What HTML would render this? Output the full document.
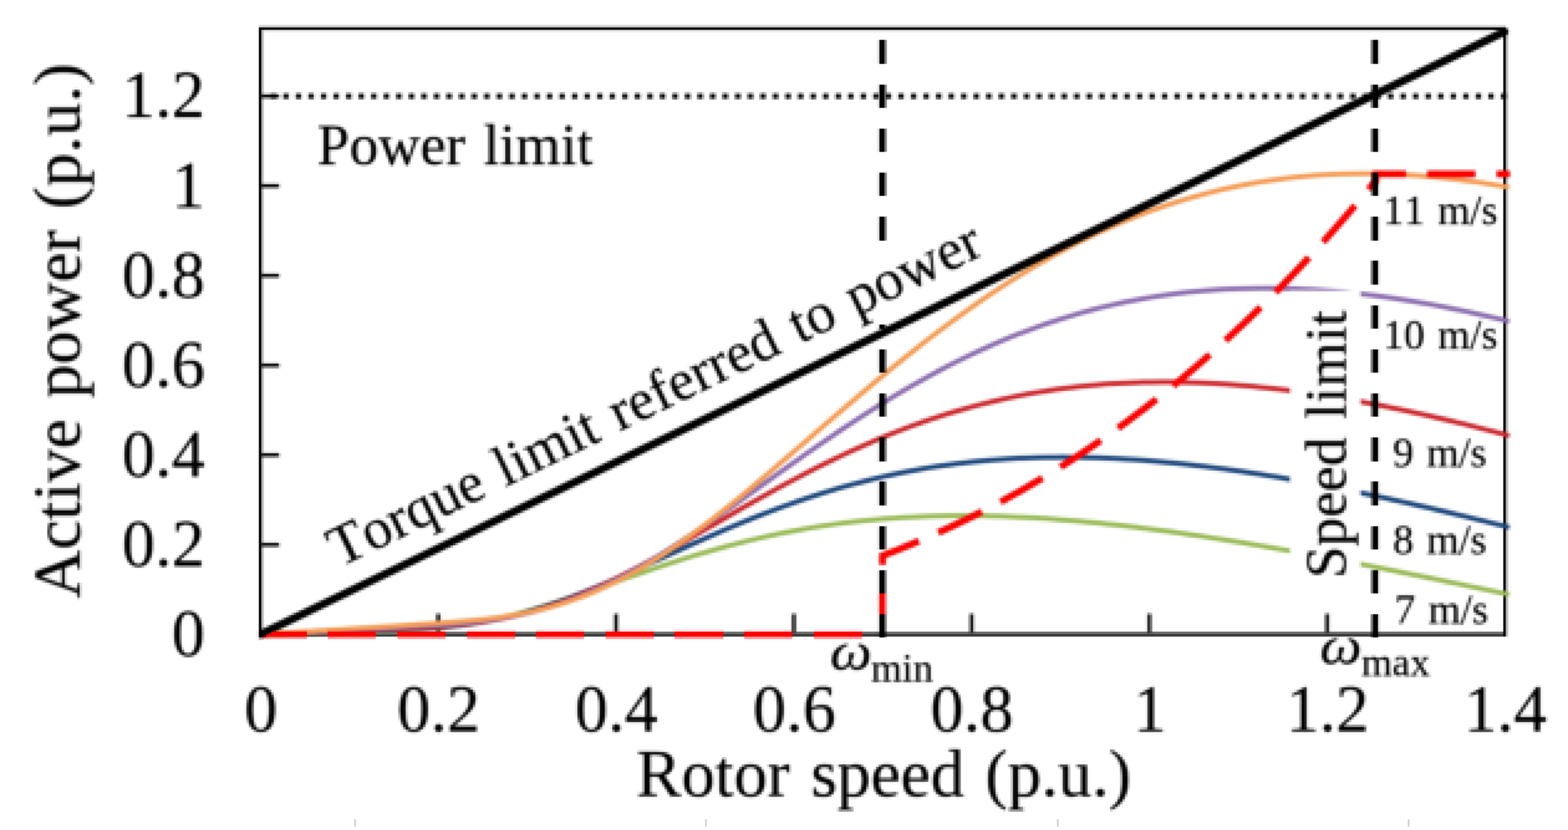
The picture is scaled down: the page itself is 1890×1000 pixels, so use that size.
<!DOCTYPE html>
<html lang="en"><head><meta charset="utf-8"><title>Wind turbine power characteristics</title>
<style>html,body{margin:0;padding:0;background:#fff;}body{width:1890px;height:1000px;overflow:hidden;}svg{display:block;}text{font-family:"Liberation Serif","DejaVu Serif",serif;font-kerning:none;font-variant-ligatures:none;word-spacing:0.0625em;fill:#000;stroke:#000;stroke-width:0.3px;stroke-linejoin:round;}</style></head><body>
<svg width="1890" height="1000" viewBox="0 0 1890 1000">
<defs>
<filter id="pix" filterUnits="userSpaceOnUse" x="0" y="0" width="1890" height="1000" color-interpolation-filters="sRGB"><feGaussianBlur in="SourceGraphic" stdDeviation="0.85" result="b"/><feFlood x="1" y="1" width="1" height="1" flood-color="#000" result="f"/><feComposite in="f" in2="f" operator="over" x="0" y="0" width="3" height="3" result="c"/><feTile in="c" result="t"/><feComposite in="b" in2="t" operator="in" result="s"/><feMorphology in="s" operator="dilate" radius="1"/></filter>
<filter id="soft" filterUnits="userSpaceOnUse" x="-6" y="-6" width="1902" height="1012" color-interpolation-filters="sRGB"><feConvolveMatrix order="3" kernelMatrix="1 4 1 4 20 4 1 4 1" divisor="40" edgeMode="duplicate" preserveAlpha="true"/></filter>
<clipPath id="tq"><rect x="312" y="0" width="1520" height="770"/></clipPath>
</defs>
<rect x="-12" y="-12" width="1914" height="1024" fill="#fff"/>
<g filter="url(#soft)">
<rect x="-12" y="-12" width="1914" height="1024" fill="#fff"/>
<g shape-rendering="crispEdges">
<rect x="427" y="987" width="2" height="9" fill="#cfcfcf"/>
<rect x="850" y="987" width="2" height="9" fill="#cfcfcf"/>
<rect x="1274" y="987" width="2" height="9" fill="#cfcfcf"/>
<rect x="1697" y="987" width="2" height="9" fill="#cfcfcf"/>
<rect x="312" y="761" width="1503" height="3" fill="#6a6a6a"/>
<rect x="312" y="764" width="1503" height="3" fill="#383838"/>
<rect x="312" y="30" width="1503" height="3" fill="#d5d5d5"/>
<rect x="315" y="36" width="1497" height="3" fill="#e9e9e9"/>
<rect x="315" y="36" width="3" height="725" fill="#bcbcbc"/>
<rect x="1815" y="39" width="3" height="728" fill="#bcbcbc"/>
<rect x="312" y="33" width="1503" height="3" fill="#000"/>
<rect x="312" y="33" width="3" height="734" fill="#000"/>
<rect x="1812" y="33" width="3" height="734" fill="#000"/>
</g>
<g filter="url(#pix)">
<rect x="315" y="654.1" width="21.5" height="4.4" fill="#000"/>
<rect x="315" y="546.0" width="21.5" height="4.4" fill="#000"/>
<rect x="315" y="438.0" width="21.5" height="4.4" fill="#000"/>
<rect x="315" y="329.9" width="21.5" height="4.4" fill="#000"/>
<rect x="315" y="221.8" width="21.5" height="4.4" fill="#000"/>
<rect x="315" y="113.7" width="21.5" height="4.4" fill="#000"/>
<rect x="526.0" y="739.5" width="4.6" height="23" fill="#111"/>
<rect x="740.3" y="739.5" width="4.6" height="23" fill="#111"/>
<rect x="954.6" y="739.5" width="4.6" height="23" fill="#111"/>
<rect x="1168.8" y="739.5" width="4.6" height="23" fill="#111"/>
<rect x="1383.1" y="739.5" width="4.6" height="23" fill="#111"/>
<rect x="1597.4" y="739.5" width="4.6" height="23" fill="#111"/>
<g fill="none" stroke-width="6" stroke-linejoin="round">
<path d="M314.0,764.4 L324.8,764.1 L335.5,763.9 L346.3,763.6 L357.0,763.3 L367.8,763.0 L378.5,762.8 L389.3,762.5 L400.0,762.2 L410.8,762.0 L421.5,761.7 L432.3,761.4 L443.0,761.1 L453.8,760.8 L464.5,760.5 L475.3,760.1 L486.0,759.7 L496.8,759.1 L507.5,758.4 L518.3,757.6 L529.1,756.7 L539.8,755.5 L550.6,754.1 L561.3,752.6 L572.1,750.8 L582.8,748.8 L593.6,746.6 L604.3,744.2 L615.1,741.6 L625.8,738.8 L636.6,735.8 L647.3,732.6 L658.1,729.4 L668.8,726.0 L679.6,722.5 L690.3,718.9 L701.1,715.2 L711.8,711.5 L722.6,707.8 L733.4,704.0 L744.1,700.3 L754.9,696.5 L765.6,692.8 L776.4,689.1 L787.1,685.5 L797.9,681.9 L808.6,678.3 L819.4,674.9 L830.1,671.5 L840.9,668.2 L851.6,665.1 L862.4,662.0 L873.1,659.0 L883.9,656.1 L894.6,653.3 L905.4,650.7 L916.1,648.1 L926.9,645.7 L937.6,643.4 L948.4,641.2 L959.2,639.2 L969.9,637.2 L980.7,635.4 L991.4,633.7 L1002.2,632.1 L1012.9,630.6 L1023.7,629.3 L1034.4,628.0 L1045.2,626.9 L1055.9,625.9 L1066.7,625.0 L1077.4,624.2 L1088.2,623.5 L1098.9,622.9 L1109.7,622.4 L1120.4,622.0 L1131.2,621.7 L1141.9,621.5 L1152.7,621.3 L1163.5,621.3 L1174.2,621.4 L1185.0,621.5 L1195.7,621.8 L1206.5,622.1 L1217.2,622.5 L1228.0,622.9 L1238.7,623.5 L1249.5,624.1 L1260.2,624.8 L1271.0,625.5 L1281.7,626.4 L1292.5,627.2 L1303.2,628.2 L1314.0,629.2 L1324.7,630.3 L1335.5,631.4 L1346.2,632.6 L1357.0,633.8 L1367.8,635.1 L1378.5,636.4 L1389.3,637.8 L1400.0,639.2 L1410.8,640.6 L1421.5,642.1 L1432.3,643.7 L1443.0,645.3 L1453.8,646.9 L1464.5,648.6 L1475.3,650.2 L1486.0,652.0 L1496.8,653.7 L1507.5,655.5 L1518.3,657.4 L1529.0,659.2 L1539.8,661.1 L1550.5,663.0 L1561.3,664.9 L1572.1,666.9 L1582.8,668.8 L1593.6,670.8 L1604.3,672.9 L1615.1,674.9 L1625.8,677.0 L1636.6,679.0 L1647.3,681.1 L1658.1,683.3 L1668.8,685.4 L1679.6,687.5 L1690.3,689.7 L1701.1,691.9 L1711.8,694.0 L1722.6,696.2 L1733.3,698.4 L1744.1,700.7 L1754.8,702.9 L1765.6,705.1 L1776.3,707.4 L1787.1,709.6 L1797.9,711.9 L1808.6,714.1 L1819.4,716.4" stroke="#9BBB59"/>
<path d="M314.0,764.4 L324.8,764.0 L335.5,763.7 L346.3,763.3 L357.0,763.0 L367.8,762.6 L378.5,762.3 L389.3,761.9 L400.0,761.6 L410.8,761.2 L421.5,760.9 L432.3,760.5 L443.0,760.1 L453.8,759.8 L464.5,759.4 L475.3,759.0 L486.0,758.6 L496.8,758.1 L507.5,757.5 L518.3,756.8 L529.1,756.0 L539.8,755.1 L550.6,754.0 L561.3,752.7 L572.1,751.1 L582.8,749.4 L593.6,747.4 L604.3,745.1 L615.1,742.6 L625.8,739.9 L636.6,736.9 L647.3,733.7 L658.1,730.3 L668.8,726.7 L679.6,722.8 L690.3,718.8 L701.1,714.6 L711.8,710.2 L722.6,705.8 L733.4,701.2 L744.1,696.5 L754.9,691.7 L765.6,686.9 L776.4,682.0 L787.1,677.1 L797.9,672.2 L808.6,667.3 L819.4,662.4 L830.1,657.5 L840.9,652.7 L851.6,647.9 L862.4,643.2 L873.1,638.6 L883.9,634.0 L894.6,629.5 L905.4,625.1 L916.1,620.9 L926.9,616.7 L937.6,612.6 L948.4,608.7 L959.2,604.9 L969.9,601.2 L980.7,597.6 L991.4,594.2 L1002.2,590.9 L1012.9,587.7 L1023.7,584.7 L1034.4,581.8 L1045.2,579.0 L1055.9,576.4 L1066.7,573.9 L1077.4,571.5 L1088.2,569.3 L1098.9,567.2 L1109.7,565.3 L1120.4,563.4 L1131.2,561.7 L1141.9,560.2 L1152.7,558.8 L1163.5,557.4 L1174.2,556.3 L1185.0,555.2 L1195.7,554.3 L1206.5,553.4 L1217.2,552.7 L1228.0,552.1 L1238.7,551.7 L1249.5,551.3 L1260.2,551.0 L1271.0,550.9 L1281.7,550.8 L1292.5,550.9 L1303.2,551.0 L1314.0,551.3 L1324.7,551.6 L1335.5,552.0 L1346.2,552.5 L1357.0,553.2 L1367.8,553.8 L1378.5,554.6 L1389.3,555.5 L1400.0,556.4 L1410.8,557.4 L1421.5,558.5 L1432.3,559.7 L1443.0,560.9 L1453.8,562.2 L1464.5,563.6 L1475.3,565.0 L1486.0,566.5 L1496.8,568.0 L1507.5,569.7 L1518.3,571.3 L1529.0,573.1 L1539.8,574.8 L1550.5,576.7 L1561.3,578.6 L1572.1,580.5 L1582.8,582.5 L1593.6,584.5 L1604.3,586.6 L1615.1,588.7 L1625.8,590.9 L1636.6,593.1 L1647.3,595.3 L1658.1,597.6 L1668.8,599.9 L1679.6,602.2 L1690.3,604.6 L1701.1,607.0 L1711.8,609.5 L1722.6,611.9 L1733.3,614.5 L1744.1,617.0 L1754.8,619.6 L1765.6,622.1 L1776.3,624.8 L1787.1,627.4 L1797.9,630.1 L1808.6,632.7 L1819.4,635.4" stroke="#1F497D"/>
<path d="M314.0,764.4 L324.8,764.0 L335.5,763.5 L346.3,763.1 L357.0,762.6 L367.8,762.2 L378.5,761.7 L389.3,761.3 L400.0,760.8 L410.8,760.4 L421.5,759.9 L432.3,759.5 L443.0,759.0 L453.8,758.6 L464.5,758.1 L475.3,757.7 L486.0,757.2 L496.8,756.7 L507.5,756.1 L518.3,755.5 L529.1,754.8 L539.8,754.0 L550.6,753.0 L561.3,751.9 L572.1,750.6 L582.8,749.2 L593.6,747.4 L604.3,745.5 L615.1,743.3 L625.8,740.8 L636.6,738.1 L647.3,735.0 L658.1,731.7 L668.8,728.2 L679.6,724.3 L690.3,720.2 L701.1,715.8 L711.8,711.2 L722.6,706.4 L733.4,701.4 L744.1,696.2 L754.9,690.7 L765.6,685.2 L776.4,679.5 L787.1,673.6 L797.9,667.7 L808.6,661.7 L819.4,655.6 L830.1,649.4 L840.9,643.2 L851.6,637.0 L862.4,630.8 L873.1,624.6 L883.9,618.4 L894.6,612.2 L905.4,606.1 L916.1,600.1 L926.9,594.1 L937.6,588.2 L948.4,582.3 L959.2,576.6 L969.9,571.0 L980.7,565.4 L991.4,560.0 L1002.2,554.7 L1012.9,549.6 L1023.7,544.5 L1034.4,539.7 L1045.2,534.9 L1055.9,530.3 L1066.7,525.8 L1077.4,521.5 L1088.2,517.3 L1098.9,513.3 L1109.7,509.4 L1120.4,505.7 L1131.2,502.1 L1141.9,498.7 L1152.7,495.5 L1163.5,492.4 L1174.2,489.4 L1185.0,486.6 L1195.7,484.0 L1206.5,481.5 L1217.2,479.1 L1228.0,476.9 L1238.7,474.8 L1249.5,472.9 L1260.2,471.2 L1271.0,469.5 L1281.7,468.0 L1292.5,466.7 L1303.2,465.5 L1314.0,464.4 L1324.7,463.4 L1335.5,462.6 L1346.2,461.9 L1357.0,461.4 L1367.8,460.9 L1378.5,460.6 L1389.3,460.4 L1400.0,460.3 L1410.8,460.3 L1421.5,460.5 L1432.3,460.7 L1443.0,461.1 L1453.8,461.5 L1464.5,462.1 L1475.3,462.8 L1486.0,463.5 L1496.8,464.4 L1507.5,465.3 L1518.3,466.4 L1529.0,467.5 L1539.8,468.7 L1550.5,470.0 L1561.3,471.4 L1572.1,472.9 L1582.8,474.4 L1593.6,476.1 L1604.3,477.8 L1615.1,479.6 L1625.8,481.4 L1636.6,483.3 L1647.3,485.3 L1658.1,487.4 L1668.8,489.5 L1679.6,491.7 L1690.3,493.9 L1701.1,496.2 L1711.8,498.6 L1722.6,501.0 L1733.3,503.5 L1744.1,506.0 L1754.8,508.6 L1765.6,511.2 L1776.3,513.9 L1787.1,516.6 L1797.9,519.4 L1808.6,522.2 L1819.4,525.1" stroke="#CC2B30"/>
<path d="M314.0,764.4 L324.8,763.8 L335.5,763.3 L346.3,762.7 L357.0,762.2 L367.8,761.6 L378.5,761.1 L389.3,760.5 L400.0,760.0 L410.8,759.4 L421.5,758.9 L432.3,758.3 L443.0,757.8 L453.8,757.2 L464.5,756.7 L475.3,756.1 L486.0,755.5 L496.8,754.9 L507.5,754.3 L518.3,753.7 L529.1,753.0 L539.8,752.3 L550.6,751.4 L561.3,750.4 L572.1,749.3 L582.8,748.1 L593.6,746.6 L604.3,744.9 L615.1,743.0 L625.8,740.9 L636.6,738.5 L647.3,735.8 L658.1,732.8 L668.8,729.5 L679.6,725.8 L690.3,721.9 L701.1,717.7 L711.8,713.1 L722.6,708.3 L733.4,703.2 L744.1,697.8 L754.9,692.1 L765.6,686.2 L776.4,680.1 L787.1,673.7 L797.9,667.1 L808.6,660.3 L819.4,653.4 L830.1,646.3 L840.9,639.1 L851.6,631.8 L862.4,624.3 L873.1,616.8 L883.9,609.2 L894.6,601.6 L905.4,593.9 L916.1,586.3 L926.9,578.6 L937.6,570.9 L948.4,563.3 L959.2,555.7 L969.9,548.1 L980.7,540.6 L991.4,533.2 L1002.2,525.9 L1012.9,518.6 L1023.7,511.5 L1034.4,504.4 L1045.2,497.5 L1055.9,490.7 L1066.7,484.0 L1077.4,477.5 L1088.2,471.1 L1098.9,464.9 L1109.7,458.8 L1120.4,452.8 L1131.2,447.0 L1141.9,441.4 L1152.7,435.9 L1163.5,430.6 L1174.2,425.5 L1185.0,420.5 L1195.7,415.7 L1206.5,411.0 L1217.2,406.6 L1228.0,402.3 L1238.7,398.2 L1249.5,394.2 L1260.2,390.4 L1271.0,386.8 L1281.7,383.3 L1292.5,380.1 L1303.2,376.9 L1314.0,374.0 L1324.7,371.2 L1335.5,368.6 L1346.2,366.1 L1357.0,363.8 L1367.8,361.7 L1378.5,359.7 L1389.3,357.9 L1400.0,356.2 L1410.8,354.7 L1421.5,353.3 L1432.3,352.1 L1443.0,351.0 L1453.8,350.0 L1464.5,349.2 L1475.3,348.6 L1486.0,348.1 L1496.8,347.7 L1507.5,347.4 L1518.3,347.3 L1529.0,347.3 L1539.8,347.4 L1550.5,347.6 L1561.3,348.0 L1572.1,348.5 L1582.8,349.1 L1593.6,349.8 L1604.3,350.6 L1615.1,351.6 L1625.8,352.6 L1636.6,353.7 L1647.3,355.0 L1658.1,356.3 L1668.8,357.8 L1679.6,359.3 L1690.3,361.0 L1701.1,362.7 L1711.8,364.5 L1722.6,366.4 L1733.3,368.4 L1744.1,370.5 L1754.8,372.7 L1765.6,374.9 L1776.3,377.3 L1787.1,379.7 L1797.9,382.1 L1808.6,384.7 L1819.4,387.3" stroke="#8E70B0"/>
<path d="M314.0,764.4 L324.8,763.7 L335.5,763.1 L346.3,762.4 L357.0,761.7 L367.8,761.1 L378.5,760.4 L389.3,759.7 L400.0,759.0 L410.8,758.4 L421.5,757.7 L432.3,757.0 L443.0,756.4 L453.8,755.7 L464.5,755.0 L475.3,754.4 L486.0,753.7 L496.8,753.0 L507.5,752.3 L518.3,751.6 L529.1,750.9 L539.8,750.1 L550.6,749.2 L561.3,748.3 L572.1,747.3 L582.8,746.2 L593.6,744.9 L604.3,743.5 L615.1,741.8 L625.8,740.0 L636.6,737.9 L647.3,735.5 L658.1,732.8 L668.8,729.9 L679.6,726.6 L690.3,723.0 L701.1,719.1 L711.8,714.9 L722.6,710.3 L733.4,705.3 L744.1,700.1 L754.9,694.5 L765.6,688.5 L776.4,682.3 L787.1,675.7 L797.9,668.9 L808.6,661.8 L819.4,654.4 L830.1,646.8 L840.9,638.9 L851.6,630.8 L862.4,622.6 L873.1,614.1 L883.9,605.5 L894.6,596.7 L905.4,587.8 L916.1,578.9 L926.9,569.8 L937.6,560.6 L948.4,551.4 L959.2,542.1 L969.9,532.9 L980.7,523.6 L991.4,514.3 L1002.2,505.0 L1012.9,495.8 L1023.7,486.6 L1034.4,477.4 L1045.2,468.4 L1055.9,459.4 L1066.7,450.4 L1077.4,441.6 L1088.2,432.9 L1098.9,424.3 L1109.7,415.9 L1120.4,407.5 L1131.2,399.3 L1141.9,391.3 L1152.7,383.3 L1163.5,375.6 L1174.2,368.0 L1185.0,360.5 L1195.7,353.3 L1206.5,346.2 L1217.2,339.2 L1228.0,332.5 L1238.7,325.9 L1249.5,319.5 L1260.2,313.3 L1271.0,307.2 L1281.7,301.4 L1292.5,295.7 L1303.2,290.3 L1314.0,285.0 L1324.7,279.9 L1335.5,275.0 L1346.2,270.3 L1357.0,265.7 L1367.8,261.4 L1378.5,257.2 L1389.3,253.2 L1400.0,249.4 L1410.8,245.8 L1421.5,242.4 L1432.3,239.1 L1443.0,236.1 L1453.8,233.2 L1464.5,230.4 L1475.3,227.9 L1486.0,225.5 L1496.8,223.3 L1507.5,221.3 L1518.3,219.4 L1529.0,217.7 L1539.8,216.2 L1550.5,214.8 L1561.3,213.6 L1572.1,212.5 L1582.8,211.6 L1593.6,210.8 L1604.3,210.2 L1615.1,209.7 L1625.8,209.4 L1636.6,209.2 L1647.3,209.2 L1658.1,209.3 L1668.8,209.5 L1679.6,209.9 L1690.3,210.4 L1701.1,211.0 L1711.8,211.8 L1722.6,212.7 L1733.3,213.7 L1744.1,214.8 L1754.8,216.0 L1765.6,217.4 L1776.3,218.9 L1787.1,220.4 L1797.9,222.1 L1808.6,223.9 L1819.4,225.8" stroke="#F59D56"/>
</g>
<rect x="1555" y="350" width="85" height="355" fill="#fff"/>
<path d="M1063.8,690 L1063.8,669.5 L1071.3,666.7 L1078.9,663.7 L1086.4,660.7 L1093.9,657.6 L1101.4,654.5 L1109.0,651.3 L1116.5,648.1 L1124.0,644.8 L1131.5,641.4 L1139.1,638.0 L1146.6,634.5 L1154.1,631.0 L1161.6,627.3 L1169.2,623.7 L1176.7,619.9 L1184.2,616.1 L1191.7,612.2 L1199.3,608.3 L1206.8,604.3 L1214.3,600.2 L1221.8,596.0 L1229.4,591.8 L1236.9,587.5 L1244.4,583.1 L1251.9,578.7 L1259.5,574.2 L1267.0,569.6 L1274.5,565.0 L1282.0,560.3 L1289.6,555.5 L1297.1,550.6 L1304.6,545.6 L1312.1,540.6 L1319.7,535.5 L1327.2,530.3 L1334.7,525.1 L1342.2,519.8 L1349.8,514.3 L1357.3,508.9 L1364.8,503.3 L1372.3,497.6 L1379.9,491.9 L1387.4,486.1 L1394.9,480.2 L1402.4,474.2 L1410.0,468.2 L1417.5,462.0 L1425.0,455.8 L1432.5,449.5 L1440.1,443.1 L1447.6,436.6 L1455.1,430.0 L1462.6,423.4 L1470.2,416.6 L1477.7,409.8 L1485.2,402.8 L1492.7,395.8 L1500.3,388.7 L1507.8,381.5 L1515.3,374.2 L1522.8,366.9 L1530.4,359.4 L1537.9,351.8 L1545.4,344.2 L1552.9,336.4 L1560.5,328.6 L1568.0,320.6 L1575.5,312.6 L1583.0,304.5 L1590.6,296.2 L1598.1,287.9 L1605.6,279.5 L1613.1,271.0 L1620.7,262.3 L1628.2,253.6 L1635.7,244.8 L1643.2,235.9 L1650.8,226.8 L1658.3,217.7 L1658.3,209.6 L1820,209.6" fill="none" stroke="#ff0000" stroke-width="8.2" stroke-dasharray="58.1 25.55" stroke-dashoffset="826.90" stroke-linejoin="miter"/>
<path d="M326.4,115.9 H1816" fill="none" stroke="#000" stroke-width="6.4" stroke-dasharray="6.4 8.73"/>
<path d="M314.0,764.4 L1813.5,38.1" fill="none" stroke="#000" stroke-width="9.6" stroke-linecap="round" clip-path="url(#tq)"/>
<g font-size="80">
<text x="314.5" y="881" text-anchor="middle">0</text>
<text x="528.8" y="881" text-anchor="middle">0.2</text>
<text x="743.1" y="881" text-anchor="middle">0.4</text>
<text x="957.4" y="881" text-anchor="middle">0.6</text>
<text x="1171.6" y="881" text-anchor="middle">0.8</text>
<text x="1385.9" y="881" text-anchor="middle">1</text>
<text x="1600.2" y="881" text-anchor="middle">1.2</text>
<text x="1814.5" y="881" text-anchor="middle">1.4</text>
<text x="247" y="789.9" text-anchor="end">0</text>
<text x="247" y="681.8" text-anchor="end">0.2</text>
<text x="247" y="573.7" text-anchor="end">0.4</text>
<text x="247" y="465.7" text-anchor="end">0.6</text>
<text x="247" y="357.6" text-anchor="end">0.8</text>
<text x="247" y="249.5" text-anchor="end">1</text>
<text x="247" y="141.4" text-anchor="end">1.2</text>
</g>
<text x="1065.3" y="958.9" font-size="81.2" text-anchor="middle">Rotor speed (p.u.)</text>
<text transform="translate(96,398.6) rotate(-90)" font-size="81.05" text-anchor="middle">Active power (p.u.)</text>
<text x="382.3" y="198" font-size="69.9">Power limit</text>
<text transform="translate(408.7,684.1) rotate(-25.9)" font-size="69.5">Torque limit referred to power</text>
<text transform="translate(1621.6,535.2) rotate(-90)" font-size="69.6" text-anchor="middle">Speed limit</text>
<text x="1736.2" y="270.4" font-size="50" text-anchor="middle" fill="#1a1a1a">11 m/s</text>
<text x="1736.2" y="420.4" font-size="50" text-anchor="middle" fill="#1a1a1a">10 m/s</text>
<text x="1735.5" y="562" font-size="50" text-anchor="middle" fill="#1a1a1a">9 m/s</text>
<text x="1735.5" y="667.2" font-size="50" text-anchor="middle" fill="#1a1a1a">8 m/s</text>
<text x="1737.5" y="751.2" font-size="50" text-anchor="middle" fill="#1a1a1a">7 m/s</text>
<text transform="translate(1000.5,806) scale(1.1,1)" font-size="65" font-style="italic">ω</text>
<text x="1050" y="820.5" font-size="48">min</text>
<text transform="translate(1591,798.5) scale(1.1,1)" font-size="65" font-style="italic">ω</text>
<text x="1641" y="814.3" font-size="48">max</text>
</g>
<g shape-rendering="crispEdges">
<rect x="333.0" y="758" width="36.6" height="3" fill="#ff0000" fill-opacity="0.1"/>
<rect x="327.0" y="761" width="42.6" height="3" fill="#ff0000"/>
<rect x="321.0" y="764" width="48.6" height="3" fill="#ff0000"/>
<rect x="315.0" y="767" width="54.6" height="3" fill="#ff0000" fill-opacity="0.4"/>
<rect x="395.1" y="758" width="58.1" height="3" fill="#ff0000" fill-opacity="0.1"/>
<rect x="395.1" y="761" width="58.1" height="3" fill="#ff0000"/>
<rect x="395.1" y="764" width="58.1" height="3" fill="#ff0000"/>
<rect x="395.1" y="767" width="58.1" height="3" fill="#ff0000" fill-opacity="0.4"/>
<rect x="478.8" y="758" width="58.1" height="3" fill="#ff0000" fill-opacity="0.1"/>
<rect x="478.8" y="761" width="58.1" height="3" fill="#ff0000"/>
<rect x="478.8" y="764" width="58.1" height="3" fill="#ff0000"/>
<rect x="478.8" y="767" width="58.1" height="3" fill="#ff0000" fill-opacity="0.4"/>
<rect x="562.5" y="758" width="58.1" height="3" fill="#ff0000" fill-opacity="0.1"/>
<rect x="562.5" y="761" width="58.1" height="3" fill="#ff0000"/>
<rect x="562.5" y="764" width="58.1" height="3" fill="#ff0000"/>
<rect x="562.5" y="767" width="58.1" height="3" fill="#ff0000" fill-opacity="0.4"/>
<rect x="646.1" y="758" width="58.1" height="3" fill="#ff0000" fill-opacity="0.1"/>
<rect x="646.1" y="761" width="58.1" height="3" fill="#ff0000"/>
<rect x="646.1" y="764" width="58.1" height="3" fill="#ff0000"/>
<rect x="646.1" y="767" width="58.1" height="3" fill="#ff0000" fill-opacity="0.4"/>
<rect x="729.8" y="758" width="58.1" height="3" fill="#ff0000" fill-opacity="0.1"/>
<rect x="729.8" y="761" width="58.1" height="3" fill="#ff0000"/>
<rect x="729.8" y="764" width="58.1" height="3" fill="#ff0000"/>
<rect x="729.8" y="767" width="58.1" height="3" fill="#ff0000" fill-opacity="0.4"/>
<rect x="813.4" y="758" width="58.1" height="3" fill="#ff0000" fill-opacity="0.1"/>
<rect x="813.4" y="761" width="58.1" height="3" fill="#ff0000"/>
<rect x="813.4" y="764" width="58.1" height="3" fill="#ff0000"/>
<rect x="813.4" y="767" width="58.1" height="3" fill="#ff0000" fill-opacity="0.4"/>
<rect x="897.1" y="758" width="58.1" height="3" fill="#ff0000" fill-opacity="0.1"/>
<rect x="897.1" y="761" width="58.1" height="3" fill="#ff0000"/>
<rect x="897.1" y="764" width="58.1" height="3" fill="#ff0000"/>
<rect x="897.1" y="767" width="58.1" height="3" fill="#ff0000" fill-opacity="0.4"/>
<rect x="980.7" y="758" width="58.1" height="3" fill="#ff0000" fill-opacity="0.1"/>
<rect x="980.7" y="761" width="58.1" height="3" fill="#ff0000"/>
<rect x="980.7" y="764" width="58.1" height="3" fill="#ff0000"/>
<rect x="980.7" y="767" width="58.1" height="3" fill="#ff0000" fill-opacity="0.4"/>
</g>
<g shape-rendering="crispEdges">
<rect x="1057" y="715.2" width="3" height="24.8" fill="#ff0000" fill-opacity="0.12"/>
<rect x="1060" y="715.2" width="6" height="24.8" fill="#ff0000"/>
<rect x="1066" y="715.2" width="3" height="24.8" fill="#ff0000" fill-opacity="0.5"/>
<rect x="1057" y="740.0" width="3" height="28.4" fill="#000" fill-opacity="0.09"/>
<rect x="1060" y="740.0" width="6" height="28.4" fill="#000"/>
<rect x="1066" y="740.0" width="3" height="28.4" fill="#000" fill-opacity="0.5"/>
<rect x="1057" y="686.8" width="3" height="28.4" fill="#000" fill-opacity="0.09"/>
<rect x="1060" y="686.8" width="6" height="28.4" fill="#000"/>
<rect x="1066" y="686.8" width="3" height="28.4" fill="#000" fill-opacity="0.5"/>
<rect x="1057" y="633.6" width="3" height="28.4" fill="#000" fill-opacity="0.09"/>
<rect x="1060" y="633.6" width="6" height="28.4" fill="#000"/>
<rect x="1066" y="633.6" width="3" height="28.4" fill="#000" fill-opacity="0.5"/>
<rect x="1057" y="580.4" width="3" height="28.4" fill="#000" fill-opacity="0.09"/>
<rect x="1060" y="580.4" width="6" height="28.4" fill="#000"/>
<rect x="1066" y="580.4" width="3" height="28.4" fill="#000" fill-opacity="0.5"/>
<rect x="1057" y="527.2" width="3" height="28.4" fill="#000" fill-opacity="0.09"/>
<rect x="1060" y="527.2" width="6" height="28.4" fill="#000"/>
<rect x="1066" y="527.2" width="3" height="28.4" fill="#000" fill-opacity="0.5"/>
<rect x="1057" y="474.0" width="3" height="28.4" fill="#000" fill-opacity="0.09"/>
<rect x="1060" y="474.0" width="6" height="28.4" fill="#000"/>
<rect x="1066" y="474.0" width="3" height="28.4" fill="#000" fill-opacity="0.5"/>
<rect x="1057" y="420.8" width="3" height="28.4" fill="#000" fill-opacity="0.09"/>
<rect x="1060" y="420.8" width="6" height="28.4" fill="#000"/>
<rect x="1066" y="420.8" width="3" height="28.4" fill="#000" fill-opacity="0.5"/>
<rect x="1057" y="390.5" width="3" height="5.5" fill="#000" fill-opacity="0.09"/>
<rect x="1060" y="390.5" width="6" height="5.5" fill="#000"/>
<rect x="1066" y="390.5" width="3" height="5.5" fill="#000" fill-opacity="0.5"/>
<rect x="1057" y="261.2" width="3" height="28.4" fill="#000" fill-opacity="0.09"/>
<rect x="1060" y="261.2" width="6" height="28.4" fill="#000"/>
<rect x="1066" y="261.2" width="3" height="28.4" fill="#000" fill-opacity="0.5"/>
<rect x="1057" y="208.0" width="3" height="28.4" fill="#000" fill-opacity="0.09"/>
<rect x="1060" y="208.0" width="6" height="28.4" fill="#000"/>
<rect x="1066" y="208.0" width="3" height="28.4" fill="#000" fill-opacity="0.5"/>
<rect x="1057" y="154.8" width="3" height="28.4" fill="#000" fill-opacity="0.09"/>
<rect x="1060" y="154.8" width="6" height="28.4" fill="#000"/>
<rect x="1066" y="154.8" width="3" height="28.4" fill="#000" fill-opacity="0.5"/>
<rect x="1057" y="101.6" width="3" height="28.4" fill="#000" fill-opacity="0.09"/>
<rect x="1060" y="101.6" width="6" height="28.4" fill="#000"/>
<rect x="1066" y="101.6" width="3" height="28.4" fill="#000" fill-opacity="0.5"/>
<rect x="1057" y="48.4" width="3" height="28.4" fill="#000" fill-opacity="0.09"/>
<rect x="1060" y="48.4" width="6" height="28.4" fill="#000"/>
<rect x="1066" y="48.4" width="3" height="28.4" fill="#000" fill-opacity="0.5"/>
<rect x="1652" y="740.0" width="3" height="28.4" fill="#000" fill-opacity="0.5"/>
<rect x="1655" y="740.0" width="6" height="28.4" fill="#000"/>
<rect x="1661" y="740.0" width="3" height="28.4" fill="#000" fill-opacity="0.1"/>
<rect x="1652" y="686.8" width="3" height="28.4" fill="#000" fill-opacity="0.5"/>
<rect x="1655" y="686.8" width="6" height="28.4" fill="#000"/>
<rect x="1661" y="686.8" width="3" height="28.4" fill="#000" fill-opacity="0.1"/>
<rect x="1652" y="633.6" width="3" height="28.4" fill="#000" fill-opacity="0.5"/>
<rect x="1655" y="633.6" width="6" height="28.4" fill="#000"/>
<rect x="1661" y="633.6" width="3" height="28.4" fill="#000" fill-opacity="0.1"/>
<rect x="1652" y="580.4" width="3" height="28.4" fill="#000" fill-opacity="0.5"/>
<rect x="1655" y="580.4" width="6" height="28.4" fill="#000"/>
<rect x="1661" y="580.4" width="3" height="28.4" fill="#000" fill-opacity="0.1"/>
<rect x="1652" y="527.2" width="3" height="28.4" fill="#000" fill-opacity="0.5"/>
<rect x="1655" y="527.2" width="6" height="28.4" fill="#000"/>
<rect x="1661" y="527.2" width="3" height="28.4" fill="#000" fill-opacity="0.1"/>
<rect x="1652" y="474.0" width="3" height="28.4" fill="#000" fill-opacity="0.5"/>
<rect x="1655" y="474.0" width="6" height="28.4" fill="#000"/>
<rect x="1661" y="474.0" width="3" height="28.4" fill="#000" fill-opacity="0.1"/>
<rect x="1652" y="420.8" width="3" height="28.4" fill="#000" fill-opacity="0.5"/>
<rect x="1655" y="420.8" width="6" height="28.4" fill="#000"/>
<rect x="1661" y="420.8" width="3" height="28.4" fill="#000" fill-opacity="0.1"/>
<rect x="1652" y="367.6" width="3" height="28.4" fill="#000" fill-opacity="0.5"/>
<rect x="1655" y="367.6" width="6" height="28.4" fill="#000"/>
<rect x="1661" y="367.6" width="3" height="28.4" fill="#000" fill-opacity="0.1"/>
<rect x="1652" y="314.4" width="3" height="28.4" fill="#000" fill-opacity="0.5"/>
<rect x="1655" y="314.4" width="6" height="28.4" fill="#000"/>
<rect x="1661" y="314.4" width="3" height="28.4" fill="#000" fill-opacity="0.1"/>
<rect x="1652" y="261.2" width="3" height="28.4" fill="#000" fill-opacity="0.5"/>
<rect x="1655" y="261.2" width="6" height="28.4" fill="#000"/>
<rect x="1661" y="261.2" width="3" height="28.4" fill="#000" fill-opacity="0.1"/>
<rect x="1652" y="208.0" width="3" height="28.4" fill="#000" fill-opacity="0.5"/>
<rect x="1655" y="208.0" width="6" height="28.4" fill="#000"/>
<rect x="1661" y="208.0" width="3" height="28.4" fill="#000" fill-opacity="0.1"/>
<rect x="1652" y="154.8" width="3" height="28.4" fill="#000" fill-opacity="0.5"/>
<rect x="1655" y="154.8" width="6" height="28.4" fill="#000"/>
<rect x="1661" y="154.8" width="3" height="28.4" fill="#000" fill-opacity="0.1"/>
<rect x="1652" y="101.6" width="3" height="28.4" fill="#000" fill-opacity="0.5"/>
<rect x="1655" y="101.6" width="6" height="28.4" fill="#000"/>
<rect x="1661" y="101.6" width="3" height="28.4" fill="#000" fill-opacity="0.1"/>
<rect x="1652" y="48.4" width="3" height="28.4" fill="#000" fill-opacity="0.5"/>
<rect x="1655" y="48.4" width="6" height="28.4" fill="#000"/>
<rect x="1661" y="48.4" width="3" height="28.4" fill="#000" fill-opacity="0.1"/>
</g>
</g>
</svg></body></html>
